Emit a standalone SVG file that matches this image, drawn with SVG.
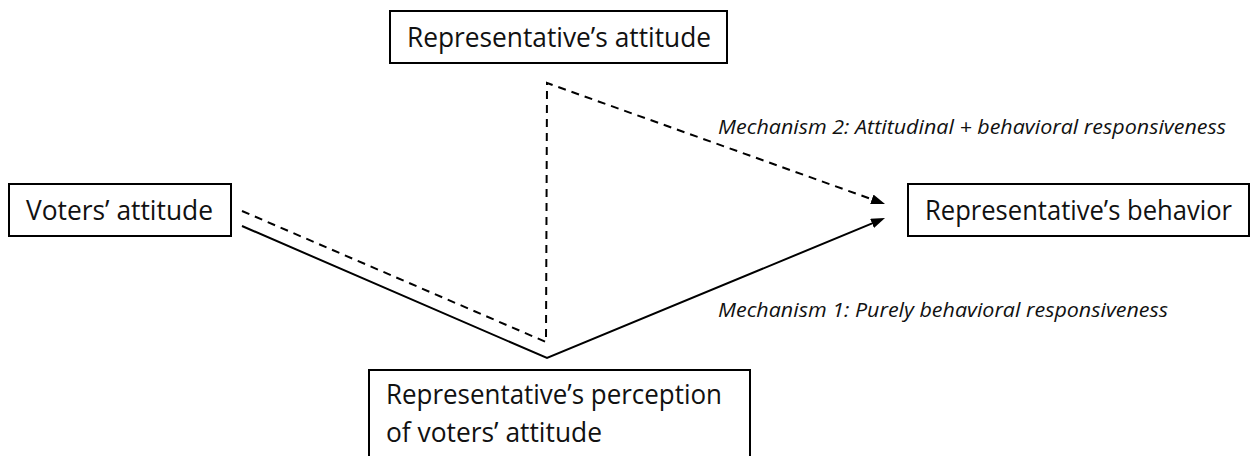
<svg xmlns="http://www.w3.org/2000/svg" width="1250" height="456" viewBox="0 0 1250 456">
<style>
.box{fill:#fff;stroke:#000;stroke-width:2}
.t{font-family:"Open Sans","Liberation Sans",sans-serif;font-size:26.5px;fill:#111}
.lab{font-family:"Open Sans","Liberation Sans",sans-serif;font-size:20.5px;font-style:italic;fill:#111}
.ln{fill:none;stroke:#000;stroke-width:2}
.dash{stroke-dasharray:8 6}
</style>
<defs>
<marker id="arr" viewBox="0 0 14 10" refX="6" refY="5" markerWidth="14" markerHeight="10" markerUnits="userSpaceOnUse" orient="auto">
<path d="M0,0 L14,5 L0,10 z" fill="#000"/>
</marker>
</defs>
<rect width="1250" height="456" fill="#fff"/>
<g id="connectors">
<path class="ln dash" d="M242,211 L546,342 L547,83 L877.5,201.3" marker-end="url(#arr)"/>
<path class="ln" d="M242,226 L547,358 L877.6,221.1" marker-end="url(#arr)"/>
<text class="lab" x="718" y="134" textLength="508" lengthAdjust="spacingAndGlyphs">Mechanism 2: Attitudinal + behavioral responsiveness</text>
<text class="lab" x="718" y="317" textLength="450" lengthAdjust="spacingAndGlyphs">Mechanism 1: Purely behavioral responsiveness</text>
</g>
<g id="rep-attitude">
<rect class="box" x="390" y="11" width="337" height="52"/>
<text class="t" x="407" y="47" textLength="304" lengthAdjust="spacingAndGlyphs">Representative’s attitude</text>
</g>
<g id="voters-attitude">
<rect class="box" x="9" y="184" width="222" height="52"/>
<text class="t" x="26" y="220" textLength="187" lengthAdjust="spacingAndGlyphs">Voters’ attitude</text>
</g>
<g id="rep-behavior">
<rect class="box" x="908" y="184" width="341" height="52"/>
<text class="t" x="925" y="220" textLength="307" lengthAdjust="spacingAndGlyphs">Representative’s behavior</text>
</g>
<g id="rep-perception">
<rect class="box" x="369" y="370" width="381" height="100"/>
<text class="t" x="386" y="404" textLength="336" lengthAdjust="spacingAndGlyphs">Representative’s perception</text>
<text class="t" x="386" y="442" textLength="216" lengthAdjust="spacingAndGlyphs">of voters’ attitude</text>
</g>
</svg>
